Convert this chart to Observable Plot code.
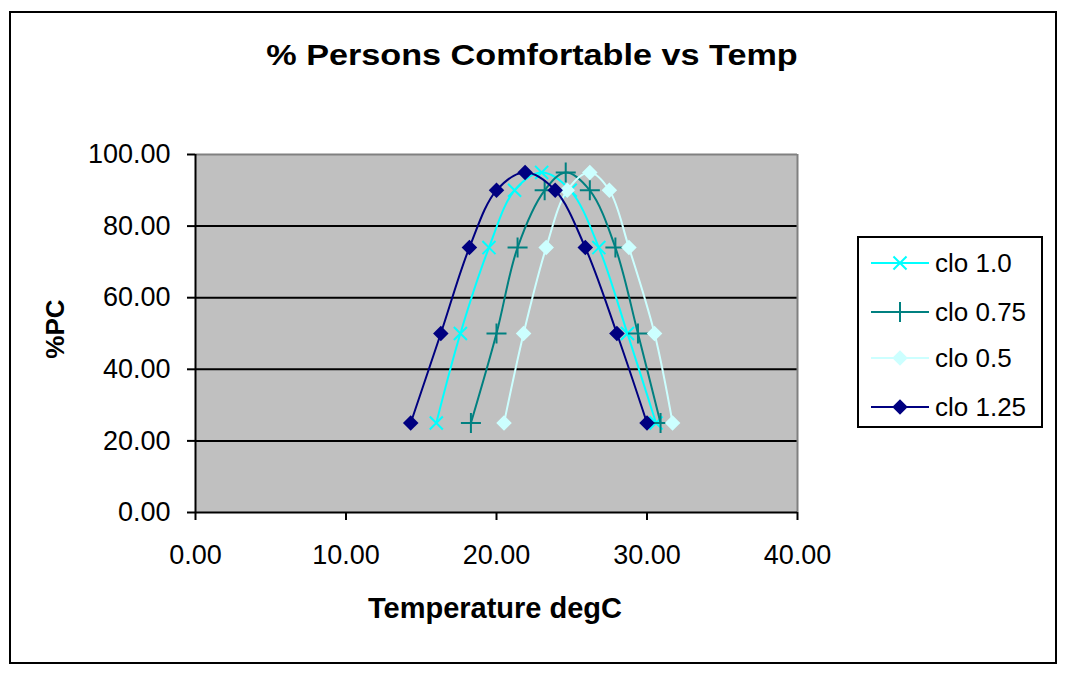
<!DOCTYPE html>
<html>
<head>
<meta charset="utf-8">
<script src="https://cdn.jsdelivr.net/npm/d3@7"></script>
<script src="https://cdn.jsdelivr.net/npm/@observablehq/plot@0.6"></script>
<style>
  html, body { margin: 0; padding: 0; background: #fff; }
  #wrap { position: relative; width: 1068px; height: 679px; overflow: hidden; font-family: "Liberation Sans", Arial, sans-serif; }
  #wrap svg.plot { position: absolute; left: 0; top: 0; }
  .border { position: absolute; left: 9px; top: 11px; width: 1044px; height: 649px; border: 2px solid #000; pointer-events: none; }
  .title { position: absolute; left: 0; top: 40px; width: 1068px; text-align: center; font-size: 30px; line-height: 30px; font-weight: bold; transform: translateX(-2px) scaleX(1.14); transform-origin: 534px 0; }
  .xtitle { position: absolute; left: 295px; width: 400px; top: 594px; text-align: center; font-size: 29px; line-height: 29px; font-weight: bold; }
  .ytitle { position: absolute; left: 55px; top: 329px; font-size: 26px; line-height: 26px; font-weight: bold; transform: translate(-50%, -50%) rotate(-90deg); white-space: nowrap; }
  .legend { position: absolute; left: 857px; top: 236px; width: 182px; height: 188px; border: 2px solid #000; background: #fff; }
  .item { position: absolute; left: 0; height: 30px; width: 182px; }
  .item svg { position: absolute; left: 12px; top: 0; }
  .item span { position: absolute; left: 76px; top: 2px; font-size: 26px; line-height: 26px; white-space: nowrap; }
</style>
</head>
<body>
<div id="wrap"></div>
<script>
// ---- data ----
const seriesNames = ["clo 1.0", "clo 0.75", "clo 0.5", "clo 1.25"];
const pcValues = [25, 50, 74, 90, 95, 90, 74, 50, 25];
const tempClo100 = [16.0, 17.6, 19.5, 21.2, 23.0, 24.9, 26.8, 28.7, 30.6];
const tempClo075 = [18.3, 20.0, 21.4, 23.2, 24.6, 26.2, 27.9, 29.4, 30.9];
const tempClo050 = [20.5, 21.8, 23.3, 24.7, 26.2, 27.5, 28.8, 30.5, 31.7];
const tempClo125 = [14.3, 16.3, 18.2, 20.0, 21.9, 23.9, 25.9, 28.0, 30.0];
const xTicks = [0, 10, 20, 30, 40];
const yTicks = [0, 20, 40, 60, 80, 100];
const gridValues = [20, 40, 60, 80];

// ---- styles ----
const seriesColors = ["#00FFFF", "#008080", "#CCFFFF", "#000080"];
const seriesSymbols = ["times", "plus", "diamond2", "diamond2"];
const seriesFilled = [false, false, true, true];
const seriesR = [6, 6.5, 7, 7];

const temps = [tempClo100, tempClo075, tempClo050, tempClo125];
const rows = [];
seriesNames.forEach((s, i) => {
  temps[i].forEach((t, j) => rows.push({series: s, temp: t, pc: pcValues[j]}));
});

const fmt = d3.format(".2f");
const marks = [
  Plot.frame({fill: "#C0C0C0", stroke: null}),
  Plot.ruleY(gridValues, {stroke: "#000", strokeWidth: 2}),
  Plot.ruleY([100], {stroke: "#808080", strokeWidth: 2}),
  Plot.ruleX([40], {stroke: "#808080", strokeWidth: 2}),
];
seriesNames.forEach((s, i) => {
  const d = rows.filter(r => r.series === s);
  marks.push(Plot.line(d, {x: "temp", y: "pc", stroke: "series", curve: "catmull-rom", strokeWidth: 2}));
  if (seriesFilled[i]) {
    marks.push(Plot.dot(d, {x: "temp", y: "pc", symbol: seriesSymbols[i], fill: "series", stroke: "none", r: seriesR[i]}));
  } else {
    marks.push(Plot.dot(d, {x: "temp", y: "pc", symbol: seriesSymbols[i], stroke: "series", fill: "none", strokeWidth: 2, r: seriesR[i]}));
  }
});
marks.push(
  Plot.ruleX([0], {stroke: "#000", strokeWidth: 2}),
  Plot.ruleY([0], {stroke: "#000", strokeWidth: 2}),
  Plot.axisX({ticks: xTicks, tickFormat: fmt, tickSize: 8, tickPadding: 24, fontSize: 27, label: null, stroke: "#000", strokeWidth: 2}),
  Plot.axisY({ticks: yTicks, tickFormat: fmt, tickSize: 8, tickPadding: 17, fontSize: 27, label: null, stroke: "#000", strokeWidth: 2})
);

const chart = Plot.plot({
  width: 1068,
  height: 679,
  marginLeft: 195,
  marginRight: 271,
  marginTop: 154,
  marginBottom: 167,
  x: {domain: [0, 40]},
  y: {domain: [0, 100]},
  color: {domain: seriesNames, range: seriesColors},
  style: {fontFamily: "'Liberation Sans', Arial, sans-serif", color: "#000", background: "transparent"},
  marks
});

const wrap = document.getElementById("wrap");
wrap.appendChild(chart);

const addDiv = (cls, text) => {
  const el = document.createElement("div");
  el.className = cls;
  if (text != null) el.textContent = text;
  wrap.appendChild(el);
  return el;
};
addDiv("border");
addDiv("title", "% Persons Comfortable vs Temp");
addDiv("xtitle", "Temperature degC");
addDiv("ytitle", "%PC");

// legend
const legend = addDiv("legend");
const symMap = {times: d3.symbolTimes, plus: d3.symbolPlus, diamond2: d3.symbolDiamond2};
const itemTops = [10, 59, 105, 154];
seriesNames.forEach((s, i) => {
  const item = document.createElement("div");
  item.className = "item";
  item.style.top = itemTops[i] + "px";
  const svg = d3.create("svg").attr("width", 60).attr("height", 30);
  svg.append("line").attr("x1", 0).attr("x2", 58).attr("y1", 15).attr("y2", 15)
    .attr("stroke", seriesColors[i]).attr("stroke-width", 2);
  const r = seriesR[i];
  const path = svg.append("path")
    .attr("transform", "translate(29,15)")
    .attr("d", d3.symbol(symMap[seriesSymbols[i]], Math.PI * r * r)());
  if (seriesFilled[i]) path.attr("fill", seriesColors[i]);
  else path.attr("fill", "none").attr("stroke", seriesColors[i]).attr("stroke-width", 2);
  item.appendChild(svg.node());
  const span = document.createElement("span");
  span.textContent = s;
  item.appendChild(span);
  legend.appendChild(item);
});
</script>
</body>
</html>
